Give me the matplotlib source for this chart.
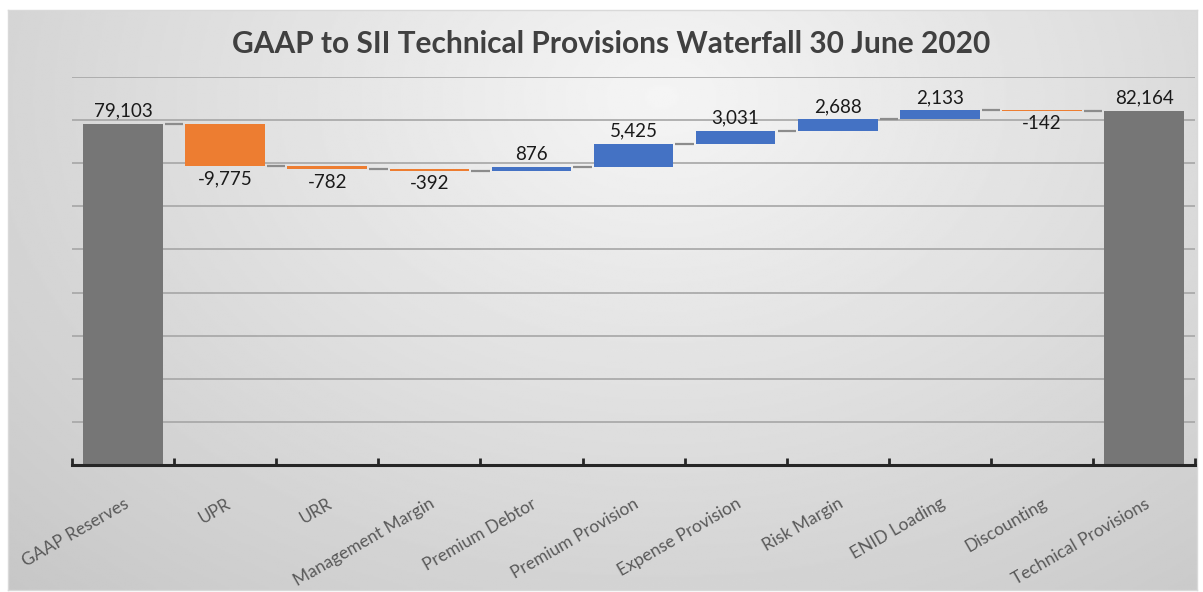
import numpy as np
import matplotlib.pyplot as plt

# ---------- data ----------
categories = ["GAAP Reserves", "UPR", "URR", "Management Margin", "Premium Debtor",
              "Premium Provision", "Expense Provision", "Risk Margin", "ENID Loading",
              "Discounting", "Technical Provisions"]
values = [79103, -9775, -782, -392, 876, 5425, 3031, 2688, 2133, -142, 82164]
is_total = [True, False, False, False, False, False, False, False, False, False, True]

c_total = "#767676"
c_up = "#4472C4"
c_down = "#ED7D31"
c_text = "#404040"

plt.rcParams['font.family'] = ['Lato', 'DejaVu Sans']

fig = plt.figure(figsize=(12.03, 5.92), dpi=100)

# gradient background inside a thin frame
bg = fig.add_axes([0.007, 0.003, 0.988, 0.98])
yy, xx = np.mgrid[0:1:300j, 0:1:600j]
d = np.sqrt(((xx - 0.55) / 0.75) ** 2 + ((yy - 0.15) / 1.1) ** 2)
shade = np.clip(0.96 - 0.17 * d, 0.78, 0.97)
bg.imshow(shade, cmap='gray', vmin=0, vmax=1, aspect='auto', extent=[0, 1, 1, 0])
bg.set_xticks([]); bg.set_yticks([])
for s in bg.spines.values():
    s.set_color("#d9d9d9")
    s.set_linewidth(1)

ax = fig.add_axes([0.0599, 0.2145, 0.9335, 0.6555])
ax.patch.set_alpha(0)

# running totals
bottoms, heights, colors, tops = [], [], [], []
running = 0
for v, tot in zip(values, is_total):
    if tot:
        bottoms.append(0); heights.append(v); colors.append(c_total)
        running = v
    else:
        start = running
        running = running + v
        bottoms.append(min(start, running)); heights.append(abs(v))
        colors.append(c_up if v > 0 else c_down)
    tops.append(running)

x = np.arange(len(categories))
w = 0.78
ax.bar(x, heights, bottom=bottoms, width=w, color=colors, zorder=3)

# connectors
for i in range(len(values) - 1):
    ax.plot([x[i] + w / 2 + 0.02, x[i + 1] - w / 2 - 0.02], [tops[i], tops[i]],
            color="#8c8c8c", lw=1.6, zorder=2, solid_capstyle='butt')

# data labels
for i, v in enumerate(values):
    lbl = f"{v:,}"
    if is_total[i] or v > 0:
        ax.annotate(lbl, (x[i], bottoms[i] + heights[i]), xytext=(0, 3),
                    textcoords='offset points', ha='center', va='bottom',
                    fontsize=13.5, color="#1a1a1a")
    else:
        ax.annotate(lbl, (x[i], bottoms[i]), xytext=(0, -3),
                    textcoords='offset points', ha='center', va='top',
                    fontsize=13.5, color="#1a1a1a")

ax.set_xlim(-0.5, len(categories) - 0.5)
ax.set_ylim(0, 90000)
ax.set_yticks(np.arange(10000, 90001, 10000))
ax.yaxis.grid(True, color="#a6a6a6", lw=1.2, zorder=0)
ax.tick_params(axis='y', length=0, labelleft=False)
for s in ['left', 'right', 'top']:
    ax.spines[s].set_visible(False)
ax.spines['bottom'].set_color("#262626")
ax.spines['bottom'].set_linewidth(2.2)
ax.spines['bottom'].set_zorder(4)

ax.set_xticks(x)
ax.set_xticklabels(categories, rotation=30, ha='right', rotation_mode='anchor',
                   fontsize=12.5, color="#595959")
ax.tick_params(axis='x', which='major', length=0, pad=22)
ax.set_xticks(np.arange(-0.5, len(categories)), minor=True)
ax.tick_params(axis='x', which='minor', direction='in', length=5, width=2, color="#262626")

fig.text(0.508, 0.925, "GAAP to SII Technical Provisions Waterfall 30 June 2020",
         ha='center', va='center', fontsize=21.5, fontweight='bold', color=c_text)

fig.savefig("out.png", dpi=100)
